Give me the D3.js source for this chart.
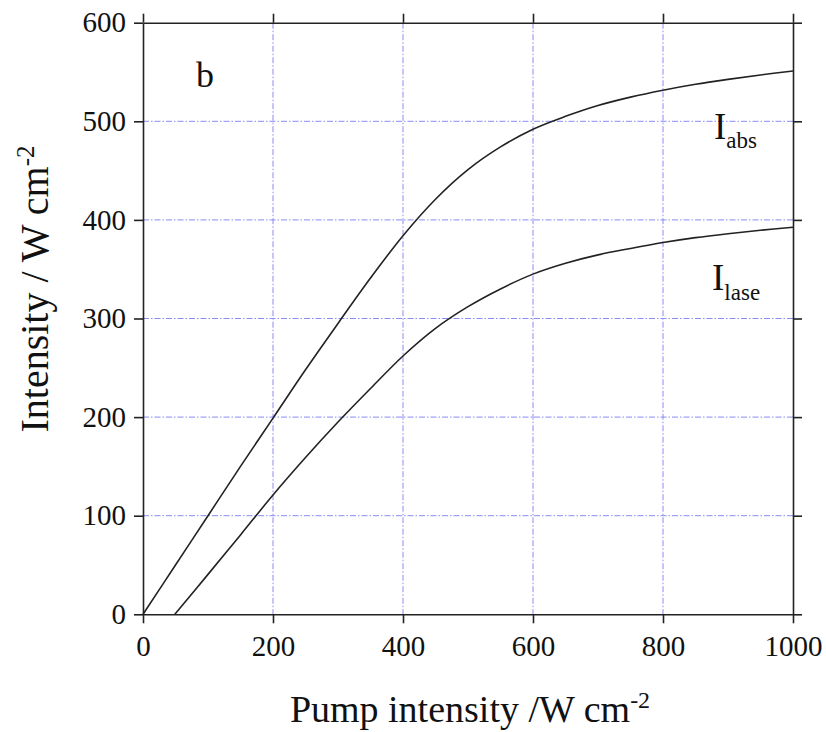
<!DOCTYPE html>
<html>
<head>
<meta charset="utf-8">
<script src="https://cdn.jsdelivr.net/npm/d3@7"></script>
<style>
  body { margin: 0; background: #fff; }
  svg { display: block; }
  text { font-family: "Liberation Serif", "Times New Roman", serif; fill: #111; }
</style>
</head>
<body>
<svg id="chart" width="826" height="732"></svg>
<script>
// ---- data ----
const pump = [0, 50, 100, 150, 200, 250, 300, 350, 400, 450, 500, 550, 600, 650, 700, 750, 800, 850, 900, 950, 1000];
const iAbs = [0, 50, 100, 150, 199, 248, 295, 341, 384, 421, 451, 474, 492, 505, 516, 524.5, 531.5, 537.5, 542.5, 547, 551];
const pumpLase = [49, 100, 150, 200, 250, 300, 350, 400, 450, 500, 550, 600, 650, 700, 750, 800, 850, 900, 950, 1000];
const iLase = [0, 40.5, 80.5, 121, 159, 195, 229, 262, 290, 312, 330, 345, 356, 364.5, 371, 377, 382, 386, 389.5, 392.5];
const xTicks = [0, 200, 400, 600, 800, 1000];
const yTicks = [0, 100, 200, 300, 400, 500, 600];

// ---- layout ----
const svg = d3.select("#chart");
const L = 143, R = 793, T = 22.7, B = 614.3;
const x = d3.scaleLinear().domain([0, 1000]).range([L, R]);
const y = d3.scaleLinear().domain([0, 600]).range([B, T]);

// grid
const grid = svg.append("g").attr("stroke", "#5b5bf0").attr("stroke-width", 1)
  .attr("stroke-dasharray", "6,2,1.5,2").attr("opacity", 0.7);
grid.selectAll(".gx").data(xTicks.slice(1, -1)).join("line")
  .attr("x1", d => x(d)).attr("x2", d => x(d)).attr("y1", T).attr("y2", B);
grid.selectAll(".gy").data(yTicks.slice(1, -1)).join("line")
  .attr("y1", d => y(d)).attr("y2", d => y(d)).attr("x1", L).attr("x2", R);

// axes
const fmt = d3.format("d");
function styleAxis(g, labels) {
  g.select(".domain").attr("stroke", "#222").attr("stroke-width", 1.6);
  g.selectAll(".tick line").attr("stroke", "#222").attr("stroke-width", 1.6);
  if (!labels) g.selectAll(".tick text").remove();
  else g.selectAll(".tick text").style("font-size", "29px")
      .style("font-family", '"Liberation Serif", serif').attr("fill", "#111");
}
svg.append("g").attr("transform", `translate(0,${B})`)
  .call(d3.axisBottom(x).tickValues(xTicks).tickFormat(fmt).tickSize(9).tickPadding(12).tickSizeOuter(0))
  .call(g => styleAxis(g, true));
svg.append("g").attr("transform", `translate(0,${T})`)
  .call(d3.axisTop(x).tickValues(xTicks).tickSize(9).tickSizeOuter(0))
  .call(g => styleAxis(g, false));
svg.append("g").attr("transform", `translate(${L},0)`)
  .call(d3.axisLeft(y).tickValues(yTicks).tickFormat(fmt).tickSize(9).tickPadding(8).tickSizeOuter(0))
  .call(g => styleAxis(g, true));
svg.append("g").attr("transform", `translate(${R},0)`)
  .call(d3.axisRight(y).tickValues(yTicks).tickSize(9).tickSizeOuter(0))
  .call(g => styleAxis(g, false));

// curves
const line = d3.line().x(d => x(d[0])).y(d => y(d[1])).curve(d3.curveCatmullRom.alpha(0.5));
svg.append("path").datum(pump.map((p, i) => [p, iAbs[i]]))
  .attr("d", line).attr("fill", "none").attr("stroke", "#222").attr("stroke-width", 1.6);
svg.append("path").datum(pumpLase.map((p, i) => [p, iLase[i]]))
  .attr("d", line).attr("fill", "none").attr("stroke", "#222").attr("stroke-width", 1.6);

// labels
svg.append("text").attr("x", 196).attr("y", 87).style("font-size", "36px").text("b");

const la = svg.append("text").attr("x", 714).attr("y", 139).style("font-size", "37px");
la.append("tspan").text("I");
la.append("tspan").attr("dy", 9).style("font-size", "23px").text("abs");

const ll = svg.append("text").attr("x", 712).attr("y", 290).style("font-size", "37px");
ll.append("tspan").text("I");
ll.append("tspan").attr("dy", 10).style("font-size", "23px").text("lase");

// axis titles
const xt = svg.append("text").attr("x", 470).attr("y", 722).attr("text-anchor", "middle").style("font-size", "38px");
xt.append("tspan").text("Pump intensity /W cm");
xt.append("tspan").attr("dy", -14).style("font-size", "24px").text("-2");

const yt = svg.append("text").attr("transform", "translate(48,289) rotate(-90)")
  .attr("text-anchor", "middle").style("font-size", "40px");
yt.append("tspan").text("Intensity / W cm");
yt.append("tspan").attr("dy", -14).style("font-size", "25px").text("-2");
</script>
</body>
</html>
